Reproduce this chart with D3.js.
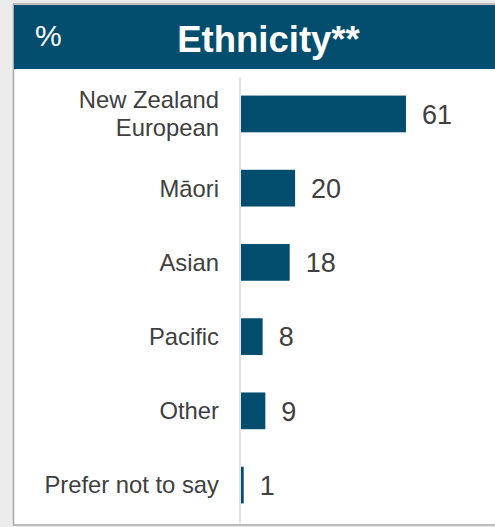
<!DOCTYPE html>
<html><head><meta charset="utf-8">
<script src="https://cdn.jsdelivr.net/npm/d3@7"></script>
<style>
html,body{margin:0;padding:0;background:#ebebeb;}
svg{display:block;font-family:"Liberation Sans",Arial,sans-serif;}
</style></head>
<body>
<script>
const categories = [["New Zealand","European"],["Māori"],["Asian"],["Pacific"],["Other"],["Prefer not to say"]];
const values = [61, 20, 18, 8, 9, 1];
const title = "Ethnicity**";
const unitLabel = "%";

const W = 495, H = 527;
const svg = d3.select("body").append("svg").attr("width", W).attr("height", H);

// panel
svg.append("rect").attr("x", 13.5).attr("y", 4).attr("width", W).attr("height", 521)
  .attr("fill", "#ffffff").attr("stroke", "#a9a9a9").attr("stroke-width", 1.5);
// header
svg.append("rect").attr("x", 14).attr("y", 5).attr("width", W - 14).attr("height", 64).attr("fill", "#034e6e");
svg.append("text").attr("x", 35).attr("y", 46).attr("fill", "#fff").attr("font-size", 30).text(unitLabel);
svg.append("text").attr("x", 268.5).attr("y", 52).attr("fill", "#fff").attr("font-size", 36.5)
  .attr("font-weight", "bold").attr("text-anchor", "middle").text(title);

const x0 = 241;
const x = d3.scaleLinear().domain([0, 61]).range([x0, 406]);
const y = d3.scaleBand().domain(d3.range(values.length)).range([77, 522]).paddingInner(0.505).paddingOuter(0.25);

// axis line
svg.append("line").attr("x1", 240).attr("x2", 240).attr("y1", 77).attr("y2", 523)
  .attr("stroke", "#d9d9d9").attr("stroke-width", 1.5);

const g = svg.append("g");
g.selectAll("rect.bar").data(values).join("rect").attr("class", "bar")
  .attr("x", x(0)).attr("y", (d, i) => y(i)).attr("width", d => x(d) - x(0))
  .attr("height", y.bandwidth()).attr("fill", "#034e6e");

g.selectAll("text.val").data(values).join("text").attr("class", "val")
  .attr("x", d => x(d) + 16).attr("y", (d, i) => y(i) + y.bandwidth() / 2 + 9.8)
  .attr("font-size", 27).attr("fill", "#404040").text(d => d);

const lab = g.selectAll("text.lab").data(categories).join("text").attr("class", "lab")
  .attr("text-anchor", "end").attr("font-size", 23.8).attr("fill", "#404040");
lab.each(function(lines, i) {
  const c = y(i) + y.bandwidth() / 2;
  const lh = 28;
  const start = c + 8.4 - (lines.length - 1) * lh / 2;
  d3.select(this).selectAll("tspan").data(lines).join("tspan")
    .attr("x", 219).attr("y", (l, j) => start + j * lh).text(l => l);
});
</script>
</body></html>
